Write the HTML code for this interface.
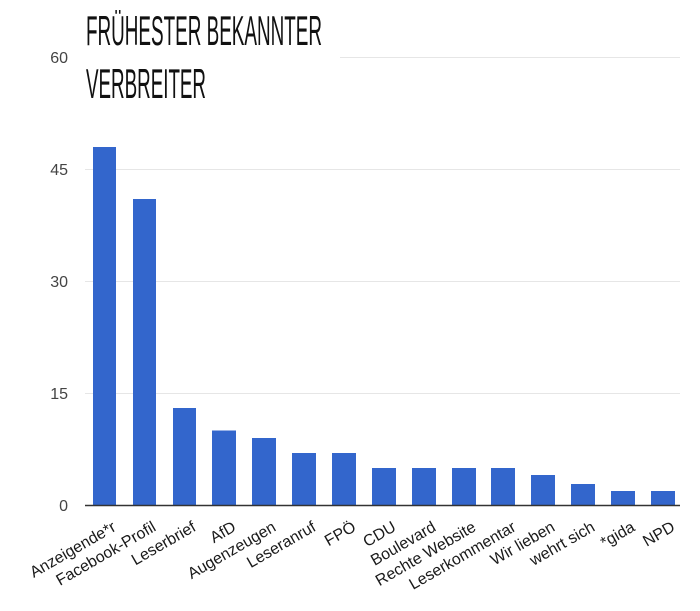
<!DOCTYPE html>
<html><head><meta charset="utf-8"><style>
html,body{margin:0;padding:0;background:#fff;}
svg{display:block;}
</style></head><body>
<svg width="700" height="611" xmlns="http://www.w3.org/2000/svg" font-family="Liberation Sans, sans-serif">
<g stroke="#e6e6e6" stroke-width="1">
<line x1="340" y1="57.5" x2="680" y2="57.5"/>
<line x1="85" y1="169.5" x2="680" y2="169.5"/>
<line x1="85" y1="281.5" x2="680" y2="281.5"/>
<line x1="85" y1="393.5" x2="680" y2="393.5"/>
</g>
<g fill="#444" font-size="16" text-anchor="end">
<text x="68" y="63">60</text>
<text x="68" y="175">45</text>
<text x="68" y="287">30</text>
<text x="68" y="399">15</text>
<text x="68" y="511">0</text>
</g>
<g fill="#3366cc">
<rect x="93" y="147" width="23" height="358"/>
<rect x="133" y="199" width="23" height="306"/>
<rect x="173" y="408" width="23" height="97"/>
<rect x="212" y="430.5" width="24" height="74.5"/>
<rect x="252" y="438" width="24" height="67"/>
<rect x="292" y="453" width="24" height="52"/>
<rect x="332" y="453" width="24" height="52"/>
<rect x="372" y="468" width="24" height="37"/>
<rect x="412" y="468" width="24" height="37"/>
<rect x="452" y="468" width="24" height="37"/>
<rect x="491" y="468" width="24" height="37"/>
<rect x="531" y="475" width="24" height="30"/>
<rect x="571" y="484" width="24" height="21"/>
<rect x="611" y="491" width="24" height="14"/>
<rect x="651" y="491" width="24" height="14"/>
</g>
<line x1="85" y1="505.5" x2="680" y2="505.5" stroke="#333" stroke-width="1.5"/>
<g fill="#1a1a1a" font-size="16" text-anchor="end">
<text transform="translate(117,530) rotate(-30)">Anzeigende*r</text>
<text transform="translate(157,530) rotate(-30)">Facebook-Profil</text>
<text transform="translate(197,530) rotate(-30)">Leserbrief</text>
<text transform="translate(237,530) rotate(-30)">AfD</text>
<text transform="translate(277,530) rotate(-30)">Augenzeugen</text>
<text transform="translate(317,530) rotate(-30)">Leseranruf</text>
<text transform="translate(357,530) rotate(-30)">FPÖ</text>
<text transform="translate(397,530) rotate(-30)">CDU</text>
<text transform="translate(437,530) rotate(-30)">Boulevard</text>
<text transform="translate(477,530) rotate(-30)">Rechte Website</text>
<text transform="translate(517,530) rotate(-30)">Leserkommentar</text>
<text transform="translate(556,530) rotate(-30)">Wir lieben</text>
<text transform="translate(596,530) rotate(-30)">wehrt sich</text>
<text transform="translate(636,530) rotate(-30)">*gida</text>
<text transform="translate(676,530) rotate(-30)">NPD</text>
</g>
<g fill="#111" font-family="Liberation Sans Narrow, Liberation Sans, sans-serif">
<text x="86" y="45" font-size="42" textLength="236" lengthAdjust="spacingAndGlyphs" style="font-variant:small-caps">FRÜHESTER BEKANNTER</text>
<text x="86" y="98" font-size="42" textLength="120" lengthAdjust="spacingAndGlyphs" style="font-variant:small-caps">VERBREITER</text>
</g>
</svg>
</body></html>
